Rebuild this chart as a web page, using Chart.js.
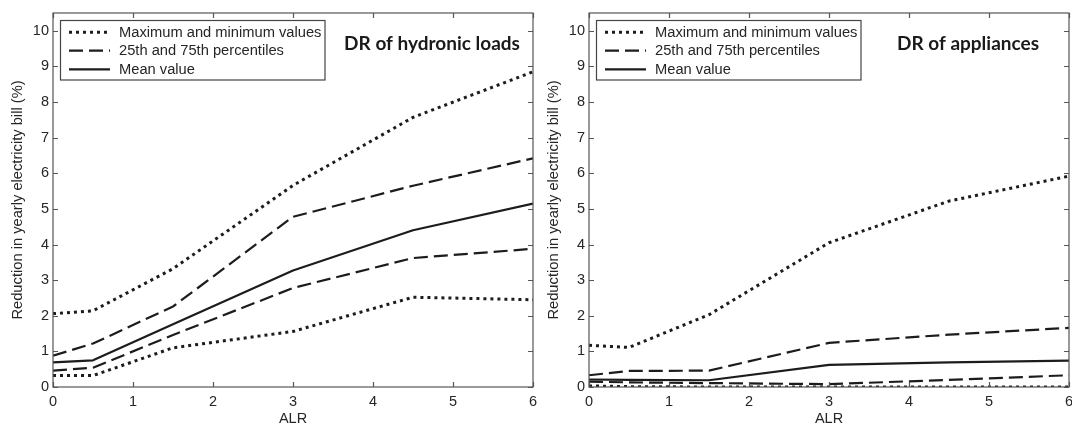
<!DOCTYPE html>
<html>
<head>
<meta charset="utf-8">
<script src="https://cdn.jsdelivr.net/npm/chart.js@4.4.1/dist/chart.umd.min.js"></script>
<style>
  html, body { margin: 0; padding: 0; background: #fff; }
  #wrap { position: relative; width: 1072px; height: 423px; overflow: hidden; }
  #c1 { position: absolute; left: 0; top: 0; }
  #c2 { position: absolute; left: 536px; top: 0; }
</style>
</head>
<body>
<div id="wrap">
  <canvas id="c1" width="545" height="423"></canvas>
  <canvas id="c2" width="536" height="423"></canvas>
</div>
<script>
// ---- data ----
const alr = [0, 0.5, 1.5, 3, 4.5, 6];
const xTicks = [0, 1, 2, 3, 4, 5, 6];
const yTicks = [0, 1, 2, 3, 4, 5, 6, 7, 8, 9, 10];

const hydMax  = [2.06, 2.14, 3.32, 5.66, 7.57, 8.85];
const hydP75  = [0.88, 1.22, 2.26, 4.78, 5.65, 6.42];
const hydMean = [0.69, 0.75, 1.76, 3.27, 4.40, 5.15];
const hydP25  = [0.46, 0.54, 1.46, 2.78, 3.62, 3.88];
const hydMin  = [0.32, 0.32, 1.10, 1.56, 2.52, 2.45];

const appMax  = [1.17, 1.11, 2.03, 4.05, 5.22, 5.92];
const appP75  = [0.33, 0.45, 0.46, 1.24, 1.47, 1.66];
const appMean = [0.21, 0.20, 0.19, 0.62, 0.69, 0.74];
const appP25  = [0.15, 0.13, 0.11, 0.08, 0.20, 0.33];
const appMin  = [0.03, 0.01, 0.00, 0.00, 0.00, 0.00];

const legendLabels = ['Maximum and minimum values', '25th and 75th percentiles', 'Mean value'];
const titles = ['DR of hydronic loads', 'DR of appliances'];
const xTitle = 'ALR';
const yTitle = 'Reduction in yearly electricity bill (%)';

// ---- styles ----
const LINE = '#1c1c1c';
const AXIS = '#555555';
const TEXT = '#262626';
const FONT = "'Liberation Sans', Arial, sans-serif";
const DOT = [3, 4];
const DASH = [14, 6];

function pts(arr) { return alr.map((x, i) => ({ x: x, y: arr[i] })); }

function ds(arr, kind) {
  const o = { data: pts(arr), borderColor: LINE, backgroundColor: LINE, pointRadius: 0,
    showLine: true, fill: false, tension: 0, borderCapStyle: 'butt', borderJoinStyle: 'round' };
  if (kind === 'dot') { o.borderDash = DOT; o.borderWidth = 3; }
  else if (kind === 'dash') { o.borderDash = DASH; o.borderWidth = 2.2; }
  else { o.borderWidth = 2.2; }
  return o;
}

const framePlugin = {
  id: 'frame',
  afterDatasetsDraw(chart, args, opts) {
    const ctx = chart.ctx;
    const a = chart.chartArea;
    const xs = chart.scales.x, ys = chart.scales.y;
    ctx.save();
    ctx.strokeStyle = AXIS;
    ctx.lineWidth = 1.2;
    ctx.setLineDash([]);
    ctx.strokeRect(a.left, a.top, a.right - a.left, a.bottom - a.top);
    const L = 5;
    ctx.beginPath();
    xs.ticks.forEach(t => {
      const px = Math.round(xs.getPixelForValue(t.value)) + 0.5;
      ctx.moveTo(px, a.bottom); ctx.lineTo(px, a.bottom - L);
      ctx.moveTo(px, a.top); ctx.lineTo(px, a.top + L);
    });
    ys.ticks.forEach(t => {
      const py = Math.round(ys.getPixelForValue(t.value)) + 0.5;
      ctx.moveTo(a.left, py); ctx.lineTo(a.left + L, py);
      ctx.moveTo(a.right, py); ctx.lineTo(a.right - L, py);
    });
    ctx.stroke();

    // legend box
    const bx = 60.5, by = 20.5, bw = 264.5, bh = 59.5;
    ctx.fillStyle = '#fff';
    ctx.fillRect(bx, by, bw, bh);
    ctx.strokeStyle = '#444';
    ctx.lineWidth = 1.2;
    ctx.strokeRect(bx, by, bw, bh);
    const rows = [32.3, 50.7, 69.3];
    rows.forEach((ry, i) => {
      ctx.beginPath();
      ctx.strokeStyle = LINE;
      if (i === 0) { ctx.setLineDash(DOT); ctx.lineWidth = 3; }
      else if (i === 1) { ctx.setLineDash(DASH); ctx.lineWidth = 2.2; }
      else { ctx.setLineDash([]); ctx.lineWidth = 2.2; }
      ctx.moveTo(69, ry); ctx.lineTo(110, ry);
      ctx.stroke();
      ctx.setLineDash([]);
      ctx.fillStyle = TEXT;
      ctx.font = "14.7px " + FONT;
      ctx.textBaseline = 'middle';
      ctx.textAlign = 'left';
      ctx.fillText(legendLabels[i], 119, ry + 0.5);
    });

    // panel title
    ctx.fillStyle = '#1a1a1a';
    ctx.font = "bold 19px Lato, 'Open Sans', sans-serif";
    ctx.textAlign = 'center';
    ctx.textBaseline = 'alphabetic';
    ctx.fillText(opts.text, 432, 49.5);
    ctx.restore();
  }
};

function makeChart(id, sets, title, padRight) {
  return new Chart(document.getElementById(id), {
    type: 'scatter',
    data: { datasets: sets },
    plugins: [framePlugin],
    options: {
      responsive: false,
      animation: false,
      events: [],
      layout: { padding: { top: 13, right: padRight, left: 0, bottom: 0 } },
      plugins: { legend: { display: false }, tooltip: { enabled: false }, frame: { text: title } },
      scales: {
        x: {
          type: 'linear', min: 0, max: 6,
          afterBuildTicks: s => { s.ticks = xTicks.map(v => ({ value: v })); },
          afterFit: s => { s.height = 36; s.paddingLeft = 0; s.paddingRight = 0; },
          grid: { display: false, drawTicks: false },
          border: { display: false },
          ticks: { color: TEXT, font: { family: FONT, size: 14.5 }, padding: 6, maxRotation: 0, autoSkip: false },
          title: { display: true, text: xTitle, color: TEXT, font: { family: FONT, size: 14.5, lineHeight: 0.6 }, padding: { top: 0, bottom: 0 } }
        },
        y: {
          type: 'linear', min: 0, max: 10.5,
          afterBuildTicks: s => { s.ticks = yTicks.map(v => ({ value: v })); },
          afterFit: s => { s.width = 53; s.paddingTop = 0; s.paddingBottom = 0; },
          grid: { display: false, drawTicks: false },
          border: { display: false },
          ticks: { color: TEXT, font: { family: FONT, size: 14.5 }, padding: 4, autoSkip: false },
          title: { display: true, text: yTitle, color: TEXT, font: { family: FONT, size: 14.7, lineHeight: 1.2 }, padding: { top: 9.3, bottom: 0 } }
        }
      }
    }
  });
}

makeChart('c1', [ds(hydMax, 'dot'), ds(hydMin, 'dot'), ds(hydP75, 'dash'), ds(hydP25, 'dash'), ds(hydMean, 'solid')], titles[0], 12);
makeChart('c2', [ds(appMax, 'dot'), ds(appMin, 'dot'), ds(appP75, 'dash'), ds(appP25, 'dash'), ds(appMean, 'solid')], titles[1], 3);
</script>
</body>
</html>
